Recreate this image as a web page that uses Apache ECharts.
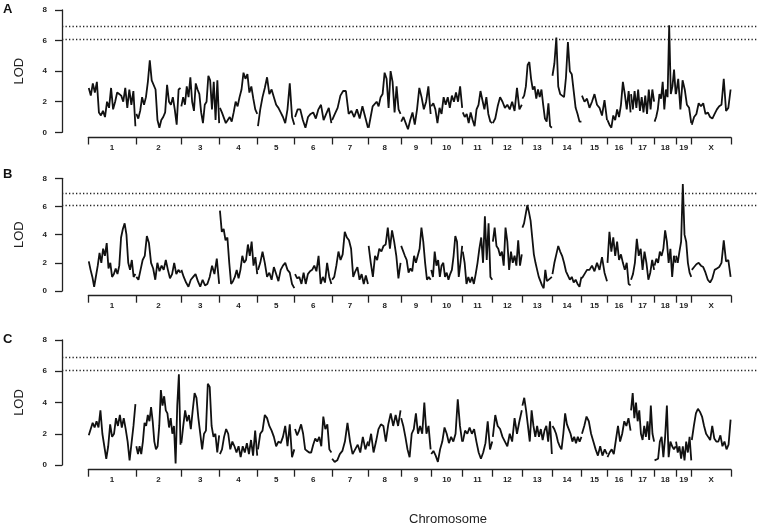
<!DOCTYPE html>
<html><head><meta charset="utf-8">
<script src="https://cdn.jsdelivr.net/npm/echarts@6/dist/echarts.min.js"></script>
<style>html,body{margin:0;padding:0;background:#fff}#c{width:757px;height:532px}</style>
</head><body><div id="c"></div><script>
const chromosomes = ['1','2','3','4','5','6','7','8','9','10','11','12','13','14','15','16','17','18','19','X'];
const chromLengths = [95, 90, 77, 76, 74, 74, 73, 65, 60, 63, 60, 59, 60, 59, 51, 47, 47, 43, 31, 79];
const yTicks = [0, 2, 4, 6, 8];
const panelLabels = ['A', 'B', 'C'];
const thresholdsA = [6.95, 6.1];
const thresholdsB = [6.95, 6.1];
const thresholdsC = [6.9, 6.05];

const lodA = [
  [2.9,2.4,3.2,2.6,3.3,1.3,1.1,1.4,1.0,2.0,1.6,2.9,1.5,2.0,2.6,2.5,2.4,2.0,2.9,1.6,2.8,1.8,2.7,0.4],
  [1.2,0.9,1.4,2.3,1.8,2.3,3.3,4.7,3.4,3.5,2.8,0.8,0.3,0.8,1.0,1.3,3.1,2.0,1.8,2.3,1.5,0.5,2.8,2.9],
  [1.7,2.3,1.8,3.0,2.3,3.6,2.0,1.4,3.2,2.8,2.5,1.3,0.6,1.8,2.0,3.7,3.4,1.5,3.3,0.8,3.4,0.6],
  [1.6,1.3,1.4,0.6,0.8,1.0,0.7,1.3,2.0,1.7,2.3,2.8,3.9,3.5,3.8,2.6,3.0,2.2,1.5,1.2],
  [0.4,1.5,2.3,2.9,3.6,2.5,2.8,2.3,1.8,1.6,1.3,1.0,0.6,1.5,3.2,1.0,0.5],
  [1.0,1.5,1.5,0.8,0.3,1.0,1.2,1.3,0.9,1.5,1.8,0.8,1.2,1.6,0.6],
  [0.8,1.2,1.6,2.4,2.7,2.7,1.2,1.4,1.0,1.5,0.9,1.7,1.0,0.3],
  [0.3,1.0,1.7,1.8,2.0,1.7,2.3,2.5,3.9,3.5,1.6,4.0,3.3,1.3,3.0,1.5,1.2],
  [0.7,1.0,0.6,0.2,0.8,1.3,0.5,1.5,2.9,2.3,1.5,2.0,3.0,1.2],
  [1.7,1.9,1.5,0.6,1.6,1.2,2.3,1.8,2.3,1.6,2.4,2.0,2.6,2.0,3.0,1.6],
  [1.3,1.0,1.2,0.6,1.3,0.8,0.4,1.5,1.8,2.7,2.1,1.5,2.3,1.2,0.7,0.6],
  [0.6,0.9,1.7,2.3,2.0,1.6,1.8,1.5,2.0,1.4,2.9,1.5,1.8],
  [2.2,2.4,3.0,4.4,4.6,3.5,2.8,3.0,2.2,2.8,2.3,2.8,1.8,0.9,0.7,1.9,0.4,0.3],
  [3.7,4.5,6.2,3.0,2.5,2.6,2.3,3.6,5.9,4.0,3.8,2.7,1.6,1.2,0.7,0.7],
  [2.4,2.0,2.2,1.6,2.0,2.5,1.8,1.6,1.1,2.1,0.8],
  [0.8,0.5,0.3,1.1,0.8,1.5,1.0,1.8,3.3,2.5,1.5,2.7,1.3],
  [2.5,1.5,2.7,1.6,2.8,1.4,2.3,1.3,2.4,1.2,2.8,1.5,2.8,2.0],
  [0.7,1.0,1.5,2.5,2.2,3.3,1.5,2.8,2.3,7.0,2.5,3.0,4.1,2.5],
  [2.5,3.5,1.5,3.4,2.8,1.8,1.6,0.6],
  [0.5,1.0,1.2,1.9,1.7,1.9,1.2,1.3,1.0,0.9,1.2,1.5,1.7,1.8,3.5,1.4,1.6,2.8]
];

const lodB = [
  [2.1,1.5,1.0,0.3,0.2,1.8,2.7,2.0,3.0,2.5,3.4,1.6,2.0,1.0,1.2,1.6,1.2,1.8,3.8,4.4,4.8,4.0,2.0,1.5,2.2,1.0,1.2],
  [1.0,0.8,1.5,2.2,2.5,3.9,3.4,2.0,1.6,0.8,2.0,1.4,1.8,1.5,2.2,1.5,0.9,1.2,2.0,1.2,1.5,1.3],
  [1.5,1.0,0.6,0.3,0.8,1.0,1.2,0.7,0.3,0.8,0.4,0.5,1.0,1.8,1.2,2.3,0.5],
  [5.7,4.2,4.4,3.6,3.8,2.0,0.5,0.7,1.0,1.5,0.9,1.5,2.5,2.0,2.2,3.3,2.5,3.5,1.8,2.4,1.2],
  [1.5,2.0,2.8,2.0,1.0,1.3,0.8,1.7,1.2,0.7,1.5,1.8,2.0,1.5,1.3,0.5,0.2],
  [1.2,0.9,1.0,0.5,1.3,0.5,1.2,1.4,1.5,1.8,1.4,2.5,0.5,1.0,0.6,2.0,1.0,0.5],
  [0.8,1.0,1.8,2.8,2.2,2.6,4.2,3.8,3.6,3.0,1.0,1.4,1.7,0.8,1.2,0.5,1.1,0.5],
  [3.2,2.0,1.0,2.5,2.2,3.0,2.8,3.2,3.3,4.5,3.0,4.3,3.5,2.5,0.9,2.0],
  [3.2,3.3,2.5,2.2,1.3,1.6,1.4,2.5,2.0,2.5,3.0,4.5,3.5,2.0,0.8,1.0,0.8],
  [1.5,1.0,2.8,1.8,2.2,1.0,1.8,2.0,1.0,1.3,0.8,1.2,1.5,2.5,3.9,3.5,1.0,2.0,3.2],
  [2.8,2.0,0.5,1.0,0.6,1.0,0.5,1.2,2.0,3.0,3.8,2.0,5.3,2.2,4.8,1.0,0.8],
  [3.5,4.5,3.2,3.0,2.5,2.8,1.8,4.5,3.5,1.5,2.8,2.0,2.5,1.8,3.6,1.8,2.6],
  [4.5,4.8,4.7,6.1,5.6,5.0,3.8,2.6,2.0,1.5,1.0,0.7,0.4,0.2,1.5,0.7,0.8,0.9,1.0],
  [1.2,2.0,2.6,3.2,2.8,2.5,2.0,1.4,1.5,0.8,1.0,0.6,0.8,0.5,0.3,1.0],
  [0.9,1.2,1.5,1.5,1.8,1.4,2.0,1.5,2.4,1.3,0.7],
  [2.0,4.2,2.8,3.8,2.5,3.5,2.2,2.6,2.0,1.5,2.0,0.5,0.4],
  [0.8,1.2,2.0,3.7,2.5,3.0,1.5,2.8,2.0,0.8,1.3,2.2,1.5],
  [1.8,2.3,2.0,2.8,2.5,3.0,4.3,3.5,2.0,3.0,1.0,2.5,2.0],
  [2.5,2.0,2.8,3.5,7.6,4.0,3.5,2.0,1.3,1.0],
  [1.5,1.7,1.9,2.0,1.8,1.7,1.3,0.8,0.6,0.9,1.5,1.6,1.7,2.0,3.6,2.1,2.2,1.0]
];

const lodC = [
  [1.9,1.8,2.7,2.4,2.8,2.4,3.5,2.0,1.2,0.4,1.2,2.6,1.8,2.0,3.0,2.5,3.2,2.4,3.0,2.3,1.5,0.3,0.4,2.5,3.9],
  [1.2,0.7,1.2,0.7,1.5,2.7,2.5,3.2,2.8,3.7,2.8,1.5,1.0,1.2,2.5,4.8,3.8,4.4,3.5,3.3,2.4,3.0,2.0,2.5,0.1,3.8,5.8,1.3],
  [1.4,2.5,3.5,2.8,3.2,2.3,3.5,4.6,4.3,3.0,2.0,1.0,2.0,2.2,5.2,5.0,2.5,1.8,2.0,0.8,1.9],
  [0.7,1.0,1.8,2.3,2.0,1.0,1.5,1.2,0.8,1.2,0.5,1.2,0.8,1.4,0.7,1.6,0.6,2.2,0.6],
  [1.0,2.0,2.2,3.2,3.0,2.5,2.2,1.8,1.2,1.5,1.4,1.8,2.5,1.2,2.6,0.5,1.0],
  [2.3,1.9,2.2,2.6,2.0,1.0,0.9,0.8,0.8,1.3,1.7,1.5,1.8,1.2,3.1,2.3,2.6,1.0,0.8],
  [0.4,0.2,0.3,0.7,0.9,1.5,2.7,1.5,0.7,1.0,1.3,0.8,1.8,1.0,1.5],
  [1.2,2.0,0.8,1.5,2.3,2.6,2.5,1.5,2.6,3.3,2.5,3.2,2.5,3.5],
  [3.0,2.5,1.8,1.0,0.5,2.0,2.3,3.3,2.0,2.5,2.0,4.0,2.0,2.5,1.0],
  [0.7,0.9,0.6,0.2,1.0,1.5,2.4,2.0,1.4,1.8,1.5,2.0,4.2,2.5,1.5],
  [1.5,2.2,2.0,2.4,2.0,2.3,1.5,0.8,0.4,0.8,1.4,2.8,1.0,1.5],
  [1.8,3.2,2.5,2.3,1.8,1.5,1.2,2.0,1.5,3.0,2.0,2.8,3.5],
  [3.8,4.3,3.5,2.5,1.5,3.5,2.5,1.8,2.5,1.8,2.3,1.6,2.2,2.5,1.5,2.8,0.7],
  [2.5,2.3,2.0,1.5,1.2,1.0,2.0,3.3,2.6,2.3,2.0,1.5,1.8,1.4,1.8,1.5,1.8],
  [2.0,2.5,3.1,2.8,2.0,1.5,1.0,0.6,1.2,0.6,1.0,0.7],
  [0.5,0.8,1.0,0.7,1.6,2.5,1.5,2.0,2.8,2.5,3.0,2.2],
  [3.5,4.6,3.0,4.0,2.8,3.5,2.0,1.6,2.5,1.8,2.8,1.6,3.8,2.0,1.5],
  [0.3,0.2,0.4,1.5,1.8,0.5,1.8,3.8,0.5,1.5,1.2,1.0,1.2],
  [1.5,0.8,1.2,0.4,1.2,0.3,1.5,0.8,1.8,0.3],
  [1.6,2.5,3.3,3.6,3.4,3.1,2.5,2.0,1.8,1.6,2.5,1.7,1.5,1.5,1.9,1.2,1.5,1.0,1.3,2.9]
];

const panelData = [lodA, lodB, lodC];
const panelThresholds = [thresholdsA, thresholdsB, thresholdsC];

// layout (pixels)
const layout = [
  { top: 10, zeroY: 132.3, axisY: 137.5, labelY: 3 },
  { top: 178.3, zeroY: 291, axisY: 295.7, labelY: 168 },
  { top: 340, zeroY: 465, axisY: 469.7, labelY: 333 }
];
const plotLeft = 62, dataLeft = 88.3, dataRight = 731, W = 757;

const starts = []; let acc = 0;
chromLengths.forEach(l => { starts.push(acc); acc += l; });
const total = acc;
const bounds = starts.concat([total]);
const mids = starts.map((s, i) => s + chromLengths[i] / 2);
const unitsPerPx = total / (dataRight - dataLeft);
const xMin = -(dataLeft - plotLeft) * unitsPerPx;
const xMax = xMin + (W - plotLeft) * unitsPerPx;

const FONT = 'Liberation Sans, Arial, Helvetica, sans-serif';
const grid = [], xAxis = [], yAxis = [], series = [], graphic = [];

layout.forEach((L, p) => {
  const gi = grid.length;
  grid.push({ left: plotLeft, right: 0, top: L.top, height: L.zeroY - L.top });
  xAxis.push({ gridIndex: gi, type: 'value', min: xMin, max: xMax, show: false });
  yAxis.push({
    gridIndex: gi, type: 'value', min: yTicks[0], max: yTicks[yTicks.length - 1], interval: 2,
    axisLine: { show: true, onZero: false, lineStyle: { color: '#222', width: 1.3 } },
    axisTick: { show: true, length: 7, lineStyle: { color: '#222', width: 1.3 } },
    axisLabel: { margin: 15, fontSize: 8, fontWeight: 'bold', color: '#222', fontFamily: FONT },
    splitLine: { show: false },
    name: 'LOD', nameLocation: 'middle', nameGap: 36, nameRotate: 90,
    nameTextStyle: { fontSize: 13, color: '#222', fontFamily: FONT }
  });
  const ci = grid.length;
  grid.push({ left: dataLeft, right: W - dataRight, top: L.axisY - 10, height: 10 });
  xAxis.push({
    gridIndex: ci, type: 'value', min: 0, max: total, position: 'bottom',
    axisLine: { show: true, onZero: false, lineStyle: { color: '#222', width: 1.3 } },
    axisTick: { show: true, customValues: bounds, length: 7, lineStyle: { color: '#222', width: 1.3 } },
    axisLabel: {
      customValues: mids, margin: 6, fontSize: 8, fontWeight: 'bold', color: '#222', fontFamily: FONT,
      hideOverlap: false,
      formatter: v => {
        let best = 0, bd = Infinity;
        mids.forEach((m, i) => { const d = Math.abs(m - v); if (d < bd) { bd = d; best = i; } });
        return chromosomes[best];
      }
    },
    splitLine: { show: false }
  });
  yAxis.push({ gridIndex: ci, type: 'value', min: 0, max: 1, show: false });

  const lods = panelData[p];
  lods.forEach((vals, c) => {
    const n = vals.length, s = starts[c], len = chromLengths[c];
    const data = vals.map((v, k) => [s + len * (0.01 + 0.98 * k / (n - 1)), v]);
    const ser = {
      type: 'line', xAxisIndex: gi, yAxisIndex: gi, data: data, symbol: 'none',
      lineStyle: { color: '#111', width: 1.8 }, silent: true
    };
    if (c === 0) {
      ser.markLine = {
        silent: true, symbol: 'none', label: { show: false },
        lineStyle: { color: '#222', width: 1.3, type: [1.3, 2.2] },
        data: panelThresholds[p].map(t => ({ yAxis: t }))
      };
    }
    series.push(ser);
  });

  graphic.push({ type: 'text', left: 3, top: L.labelY,
    style: { text: panelLabels[p], font: 'bold 13px ' + FONT, fill: '#111' } });
});

graphic.push({ type: 'text', left: 409, top: 513,
  style: { text: 'Chromosome', font: '13px ' + FONT, fill: '#222', textAlign: 'center' } });

const chart = echarts.init(document.getElementById('c'), null, { renderer: 'canvas' });
chart.setOption({
  animation: false,
  backgroundColor: '#fff',
  textStyle: { fontFamily: FONT },
  grid, xAxis, yAxis, series, graphic
});
</script></body></html>
